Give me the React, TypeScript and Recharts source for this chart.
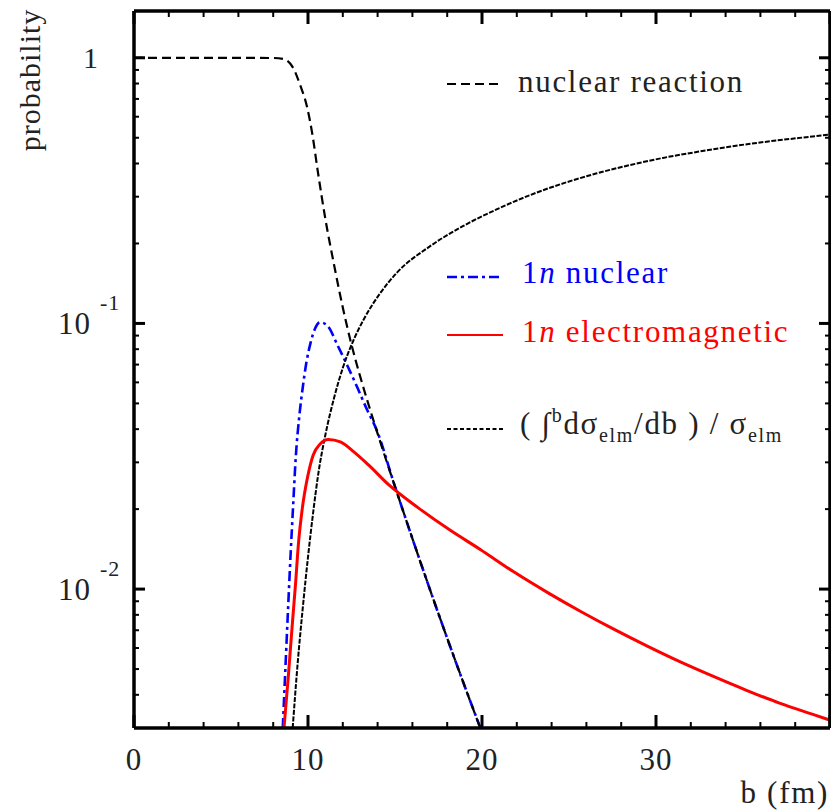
import React from 'react'
import { LineChart, Line, XAxis, YAxis } from 'recharts'

// [b (fm), probability]
const nuclearReaction: [number, number][] = [
  [0, 1], [4, 1], [8, 0.998], [8.56, 0.99], [9.14, 0.918], [9.54, 0.792],
  [9.94, 0.655], [10.23, 0.525], [10.57, 0.371], [11.0, 0.247], [11.5, 0.166],
  [12.0, 0.1148], [12.5, 0.0832], [13.0, 0.0631], [13.5, 0.049], [14.0, 0.0385],
  [15.0, 0.0243], [16.0, 0.0155], [17.0, 0.01], [18.0, 0.00653], [19.0, 0.00432],
  [20.0, 0.00288],
]

const oneNNuclear: [number, number][] = [
  [8.55, 0.003], [8.7, 0.00501], [8.85, 0.00832], [9.0, 0.0135], [9.15, 0.0209],
  [9.3, 0.0316], [9.5, 0.0447], [9.7, 0.0575], [9.9, 0.0708], [10.14, 0.0841],
  [10.4, 0.0955], [10.7, 0.101], [11.12, 0.098], [11.7, 0.0827], [12.28, 0.069],
  [12.85, 0.0571], [13.43, 0.0468], [13.9, 0.0404], [15.0, 0.0243], [16.0, 0.0155],
  [17.0, 0.01], [18.0, 0.00653], [19.0, 0.00432], [19.95, 0.00295],
]

const oneNElm: [number, number][] = [
  [8.62, 0.003], [8.88, 0.0048], [9.1, 0.0074], [9.28, 0.0104], [9.45, 0.0148],
  [9.68, 0.0203], [9.97, 0.0263], [10.3, 0.032], [10.7, 0.0352], [11.17, 0.0366],
  [11.86, 0.0358], [12.6, 0.033], [13.46, 0.0294], [14.7, 0.0245], [16.3, 0.0203],
  [18.2, 0.0166], [19.9, 0.0141], [21.8, 0.01164], [23.8, 0.00968], [25.7, 0.00822],
  [27.6, 0.00705], [29.5, 0.0061], [31.4, 0.00532], [33.3, 0.00469], [35.2, 0.00416],
  [37.1, 0.00372], [39.1, 0.00336], [40, 0.00321],
]

const elmIntegral: [number, number][] = [
  [9.12, 0.003], [9.4, 0.0052], [9.7, 0.0085], [10.0, 0.0132], [10.3, 0.0195],
  [10.6, 0.0274], [11.0, 0.0381], [11.5, 0.0525], [12.0, 0.068], [12.6, 0.086],
  [13.2, 0.1035], [14.15, 0.13], [15.1, 0.155], [17.0, 0.195], [18.9, 0.2323],
  [20.9, 0.2698], [22.8, 0.3048], [24.7, 0.3373], [26.6, 0.3673], [28.5, 0.3945],
  [30.4, 0.4198], [32.4, 0.4426], [34.3, 0.4634], [36.2, 0.4819], [38.2, 0.4989],
  [40, 0.514],
]

const xTicks = [0, 2, 4, 6, 8, 10, 12, 14, 16, 18, 20, 22, 24, 26, 28, 30, 32, 34, 36, 38, 40]
const xMajor = [0, 10, 20, 30, 40]
const xLabels = [0, 10, 20, 30]

const yTicks = [
  0.003, 0.004, 0.005, 0.006, 0.007, 0.008, 0.009, 0.01,
  0.02, 0.03, 0.04, 0.05, 0.06, 0.07, 0.08, 0.09, 0.1,
  0.2, 0.3, 0.4, 0.5, 0.6, 0.7, 0.8, 0.9, 1,
]
const yMajor = [0.01, 0.1, 1]

const toPoints = (rows: [number, number][]) => rows.map(([b, p]) => ({ b, p }))

const FONT = "'Liberation Serif', 'Times New Roman', serif"
const axisStyle = { stroke: '#000', strokeWidth: 3.5 }

function LeftTick(props: any) {
  const { x, y, payload } = props
  const v = payload.value
  const major = yMajor.includes(v)
  const exp = Math.round(Math.log10(v))
  return (
    <g>
      <line x1={x} x2={x + (major ? 11 : 5)} y1={y} y2={y} stroke="#000" strokeWidth={major ? 3 : 2} />
      {major && exp === 0 && (
        <text x={x - 36} y={y + 10} textAnchor="end" fontSize={30} fontFamily={FONT} fill="#222">1</text>
      )}
      {major && exp !== 0 && (
        <text x={x - 76} y={y + 11} fontSize={31} fontFamily={FONT} fill="#222" letterSpacing={1}>
          10
          <tspan dx={9} dy={-24} fontSize={22}>{String(exp)}</tspan>
        </text>
      )}
    </g>
  )
}

function RightTick(props: any) {
  const { x, y, payload } = props
  const major = yMajor.includes(payload.value)
  return <line x1={x} x2={x - (major ? 11 : 5)} y1={y} y2={y} stroke="#000" strokeWidth={major ? 3 : 2} />
}

function BottomTick(props: any) {
  const { x, y, payload } = props
  const v = payload.value
  const major = xMajor.includes(v)
  return (
    <g>
      <line x1={x} x2={x} y1={y} y2={y - (major ? 13 : 6)} stroke="#000" strokeWidth={major ? 3 : 2} />
      {xLabels.includes(v) && (
        <text x={x} y={y + 42} textAnchor="middle" fontSize={31} fontFamily={FONT} fill="#222" letterSpacing={1}>
          {v}
        </text>
      )}
    </g>
  )
}

function TopTick(props: any) {
  const { x, y, payload } = props
  const major = xMajor.includes(payload.value)
  return <line x1={x} x2={x} y1={y} y2={y + (major ? 13 : 6)} stroke="#000" strokeWidth={major ? 3 : 2} />
}

const textProps = { fontSize: 31, letterSpacing: 1.7, fontFamily: FONT }

export default function App() {
  return (
    <div style={{ position: 'absolute', left: 0, top: 0, background: '#fff', fontFamily: FONT }}>
      <LineChart width={831} height={812} margin={{ top: 0, right: 0, bottom: 0, left: 0 }}>
        <XAxis
          xAxisId="b" type="number" dataKey="b" domain={[0, 40]} ticks={xTicks} interval={0}
          height={84} tickSize={0} tickMargin={0} tickLine={false} axisLine={axisStyle}
          tick={BottomTick} allowDataOverflow
        />
        <XAxis
          xAxisId="t" orientation="top" type="number" dataKey="b" domain={[0, 40]} ticks={xTicks}
          interval={0} height={11} tickSize={0} tickMargin={0} tickLine={false} axisLine={axisStyle}
          tick={TopTick} allowDataOverflow
        />
        <YAxis
          yAxisId="l" type="number" scale="log" domain={[0.003, 1.5]} ticks={yTicks} interval={0}
          width={134} tickSize={0} tickMargin={0} tickLine={false} axisLine={axisStyle}
          tick={LeftTick} allowDataOverflow
        />
        <YAxis
          yAxisId="r" orientation="right" type="number" scale="log" domain={[0.003, 1.5]}
          ticks={yTicks} interval={0} width={1} tickSize={0} tickMargin={0} tickLine={false}
          axisLine={axisStyle} tick={RightTick} allowDataOverflow
        />

        <Line
          data={toPoints(oneNNuclear)} dataKey="p" xAxisId="b" yAxisId="l" type="monotone"
          stroke="#0000ff" strokeWidth={2.6} strokeDasharray="10 4 3 4" dot={false} activeDot={false}
          isAnimationActive={false}
        />
        <Line
          data={toPoints(elmIntegral)} dataKey="p" xAxisId="b" yAxisId="l" type="monotone"
          stroke="#000" strokeWidth={2} strokeDasharray="5 1.5" dot={false} activeDot={false}
          isAnimationActive={false}
        />
        <Line
          data={toPoints(nuclearReaction)} dataKey="p" xAxisId="b" yAxisId="l" type="monotone"
          stroke="#000" strokeWidth={2.2} strokeDasharray="9 5" dot={false} activeDot={false}
          isAnimationActive={false}
        />
        <Line
          data={toPoints(oneNElm)} dataKey="p" xAxisId="b" yAxisId="l" type="monotone"
          stroke="#ff0000" strokeWidth={3} dot={false} activeDot={false}
          isAnimationActive={false}
        />

        <g>
          <text transform="translate(40,80) rotate(-90)" textAnchor="middle" fontSize={30} fontFamily={FONT} letterSpacing={1} fill="#222">
            probability
          </text>
          <text x={829} y={803} textAnchor="end" {...textProps} fill="#222">b (fm)</text>

          <line x1={447} x2={503} y1={84} y2={84} stroke="#000" strokeWidth={2.2} strokeDasharray="9 5" />
          <text x={518} y={92} {...textProps} fill="#222">nuclear reaction</text>

          <line x1={447} x2={503} y1={277} y2={277} stroke="#0000ff" strokeWidth={2.6} strokeDasharray="10 4 3 4" />
          <text x={522} y={283} {...textProps} fill="#0000ff">
            1<tspan fontStyle="italic">n</tspan> nuclear
          </text>

          <line x1={447} x2={503} y1={335} y2={335} stroke="#ff0000" strokeWidth={2} />
          <text x={522} y={342} {...textProps} fill="#ff0000">
            1<tspan fontStyle="italic">n</tspan> electromagnetic
          </text>

          <line x1={447} x2={503} y1={429} y2={429} stroke="#000" strokeWidth={1.8} strokeDasharray="4 2.5" />
          <text x={520} y={434} {...textProps} fill="#222">
            ( ∫
            <tspan dy={-12} fontSize={20}>b</tspan>
            <tspan dy={12}>dσ</tspan>
            <tspan dy={8} fontSize={20}>elm</tspan>
            <tspan dy={-8}>/db ) / σ</tspan>
            <tspan dy={8} fontSize={20}>elm</tspan>
          </text>
        </g>
      </LineChart>
    </div>
  )
}
